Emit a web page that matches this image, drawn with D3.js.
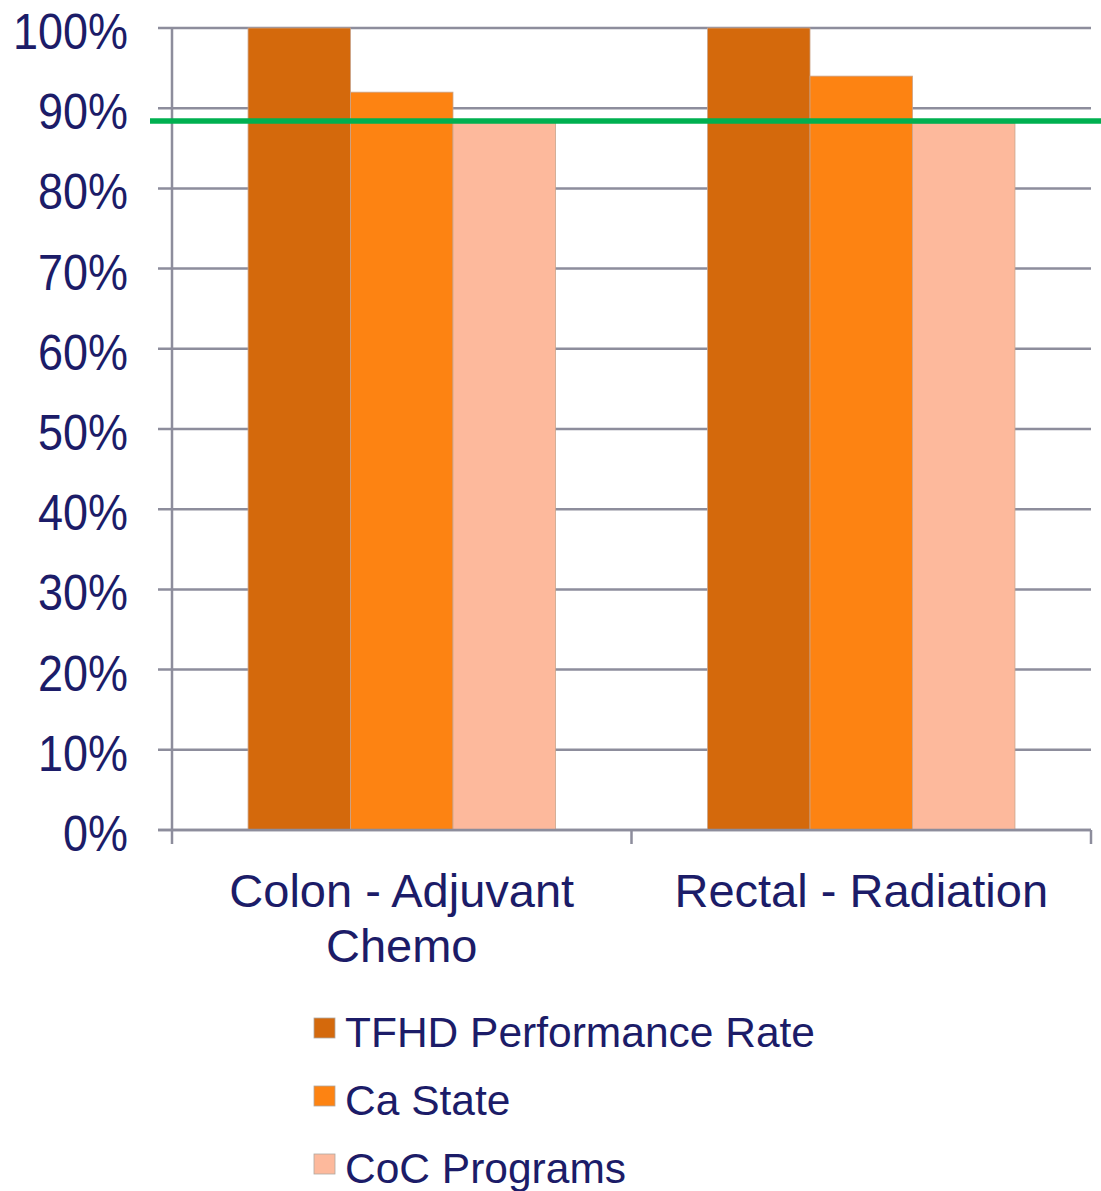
<!DOCTYPE html>
<html>
<head>
<meta charset="utf-8">
<script src="https://cdnjs.cloudflare.com/ajax/libs/d3/7.8.5/d3.min.js"></script>
<style>
  body { margin: 0; background: #fff; }
  svg { display: block; font-family: "Liberation Sans", Arial, sans-serif; }
</style>
</head>
<body>
<svg width="1101" height="1191"></svg>
<script>
// dati
var categorie = [["Colon - Adjuvant", "Chemo"], ["Rectal - Radiation"]];
var serie = ["TFHD Performance Rate", "Ca State", "CoC Programs"];
var tfhd = [100, 100];
var caState = [92, 94];
var coc = [88.2, 88.1];
var obiettivo = 88.4;
var tickY = [0, 10, 20, 30, 40, 50, 60, 70, 80, 90, 100];
var colori = ["#d4690c", "#fd8312", "#fdb99c"];

var svg = d3.select("svg");
var sinistra = 172, destra = 1091, alto = 28, basso = 830;
var testo = "#1c1c68";
var grigio = "#8d8d9c";

var valori = [tfhd, caState, coc];

var x0 = d3.scaleBand()
	.domain(d3.range(categorie.length))
	.range([sinistra, destra])
	.paddingInner(0.331)
	.paddingOuter(0.1655);

var x1 = d3.scaleBand()
	.domain(d3.range(serie.length))
	.range([0, x0.bandwidth()]);

var y = d3.scaleLinear().domain([0, 100]).range([basso, alto]);

//griglia
svg.append("g")
	.selectAll("line")
	.data(tickY)
	.enter().append("line")
	.attr("x1", sinistra - 14)
	.attr("x2", destra)
	.attr("y1", function(d){ return y(d) })
	.attr("y2", function(d){ return y(d) })
	.style("stroke", grigio)
	.attr("stroke-width", 2.5)

//asse y
svg.append("line")
	.attr("x1", sinistra).attr("x2", sinistra)
	.attr("y1", alto).attr("y2", basso)
	.style("stroke", grigio)
	.attr("stroke-width", 2.5)

//etichette y (leggermente allungate in verticale come nell'originale)
svg.append("g")
	.selectAll("text")
	.data(tickY)
	.enter().append("text")
	.attr("transform", function(d){ return "translate(128," + (y(d) + 21) + ") scale(1,1.12)" })
	.attr("text-anchor", "end")
	.style("font-size", "45px")
	.style("fill", testo)
	.text(function(d){ return d + "%" })

//barre
var gruppi = svg.append("g")
	.selectAll("g")
	.data(categorie)
	.enter().append("g")
	.attr("transform", function(d, i){ return "translate(" + x0(i) + ",0)" })

gruppi.selectAll("rect")
	.data(function(d, i){
		return serie.map(function(s, j){ return { s: j, v: valori[j][i] } })
	})
	.enter().append("rect")
	.attr("x", function(d){ return x1(d.s) })
	.attr("width", x1.bandwidth())
	.attr("y", function(d){ return y(d.v) })
	.attr("height", function(d){ return basso - y(d.v) })
	.attr("fill", function(d){ return colori[d.s] })
	.style("stroke", "#c9a38a")
	.attr("stroke-width", 0.8)

//asse x
svg.append("line")
	.attr("x1", sinistra - 14).attr("x2", destra)
	.attr("y1", basso).attr("y2", basso)
	.style("stroke", grigio)
	.attr("stroke-width", 2.5)

var divisori = [sinistra].concat(d3.range(categorie.length).map(function(i){ return x0(i) + x0.step() * (1 - 0.1655) }))
svg.append("g")
	.selectAll("line")
	.data(divisori)
	.enter().append("line")
	.attr("x1", function(d){ return d }).attr("x2", function(d){ return d })
	.attr("y1", basso).attr("y2", basso + 14)
	.style("stroke", grigio)
	.attr("stroke-width", 2.5)

//etichette categorie
var cat = svg.append("g")
	.selectAll("text")
	.data(categorie)
	.enter().append("text")
	.attr("x", function(d, i){ return x0(i) + x0.bandwidth() / 2 })
	.attr("y", 907)
	.attr("text-anchor", "middle")
	.style("font-size", "47px")
	.style("fill", testo)
cat.selectAll("tspan")
	.data(function(d){ return d })
	.enter().append("tspan")
	.attr("x", function(){ return d3.select(this.parentNode).attr("x") })
	.attr("dy", function(d, i){ return i == 0 ? 0 : 55 })
	.text(function(d){ return d })

//linea obiettivo
svg.append("line")
	.attr("x1", 150).attr("x2", 1101)
	.attr("y1", y(obiettivo)).attr("y2", y(obiettivo))
	.style("stroke", "#00b050")
	.attr("stroke-width", 5.5)

//legenda
var leg = svg.append("g")
	.selectAll("g")
	.data(serie)
	.enter().append("g")
	.attr("transform", function(d, i){ return "translate(314," + (1018 + i * 68) + ")" })
leg.append("rect")
	.attr("width", 21).attr("height", 20)
	.attr("fill", function(d, i){ return colori[i] })
	.style("stroke", "#b0a8a0")
	.attr("stroke-width", 0.8)
leg.append("text")
	.attr("x", 31)
	.attr("y", 29)
	.style("font-size", "42.5px")
	.style("fill", testo)
	.text(function(d){ return d })
</script>
</body>
</html>
